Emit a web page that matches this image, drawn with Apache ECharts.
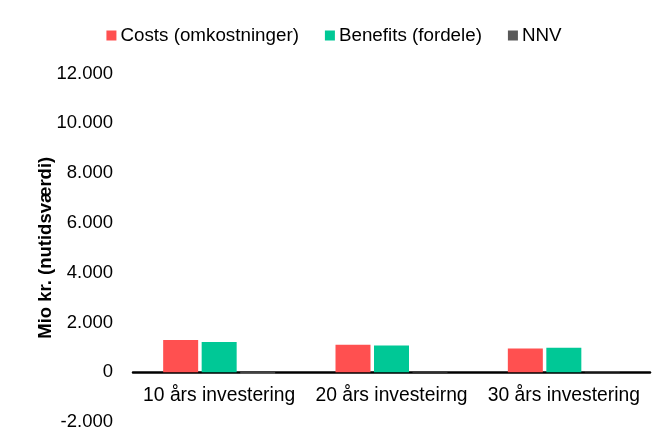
<!DOCTYPE html>
<html>
<head>
<meta charset="utf-8">
<script src="https://cdn.jsdelivr.net/npm/echarts@6/dist/echarts.min.js"></script>
<style>
html,body{margin:0;padding:0;background:#fff;}
#chart{width:668px;height:435px;}
</style>
</head>
<body>
<div id="chart"></div>
<script>
var categories = ['10 års investering', '20 års investeirng', '30 års investering'];
var costs = [1290, 1100, 955];
var benefits = [1215, 1075, 980];
var nnv = [-75, -25, 25];
var seriesNames = ['Costs (omkostninger)', 'Benefits (fordele)', 'NNV'];
var colors = ['#FF5050', '#00C896', '#595959'];
var yAxisTitle = 'Mio kr. (nutidsværdi)';

var chart = echarts.init(document.getElementById('chart'), null, {renderer: 'canvas'});
var font = 'Liberation Sans, Arial, sans-serif';
function fmt(v) {
  var s = Math.abs(v).toString().replace(/\B(?=(\d{3})+(?!\d))/g, '.');
  return (v < 0 ? '-' : '') + s;
}
var option = {
  animation: false,
  color: colors,
  textStyle: {fontFamily: font},
  legend: {
    top: 21,
    left: 'center',
    itemWidth: 10,
    itemHeight: 10,
    itemGap: 26,
    icon: 'rect',
    textStyle: {fontSize: 18.8, color: '#000', fontFamily: font, padding: [0, 0, 0, -1]},
    data: seriesNames
  },
  grid: {left: 133, right: 18, top: 73.5, bottom: 13, outerBoundsMode: 'none'},
  xAxis: {
    type: 'category',
    data: categories,
    axisLine: {onZero: true, lineStyle: {color: '#000', width: 2.5}},
    axisTick: {show: false},
    axisLabel: {fontSize: 19.3, color: '#000', margin: -36, fontFamily: font, interval: 0}
  },
  yAxis: {
    type: 'value',
    min: -2000,
    max: 12000,
    interval: 2000,
    name: yAxisTitle,
    nameLocation: 'middle',
    nameGap: 78,
    nameMoveOverlap: false,
    nameTextStyle: {fontSize: 18.5, fontWeight: 'bold', color: '#000', fontFamily: font},
    splitLine: {show: false},
    axisLine: {show: false},
    axisTick: {show: false},
    axisLabel: {fontSize: 18.5, color: '#000', margin: 20, fontFamily: font, formatter: fmt}
  },
  series: [
    {name: seriesNames[0], type: 'bar', data: costs, barWidth: 35, barGap: '10%'},
    {name: seriesNames[1], type: 'bar', data: benefits, barWidth: 35, barGap: '10%'},
    {name: seriesNames[2], type: 'bar', data: nnv, barWidth: 35, barGap: '10%'}
  ]
};
chart.setOption(option);
</script>
</body>
</html>
